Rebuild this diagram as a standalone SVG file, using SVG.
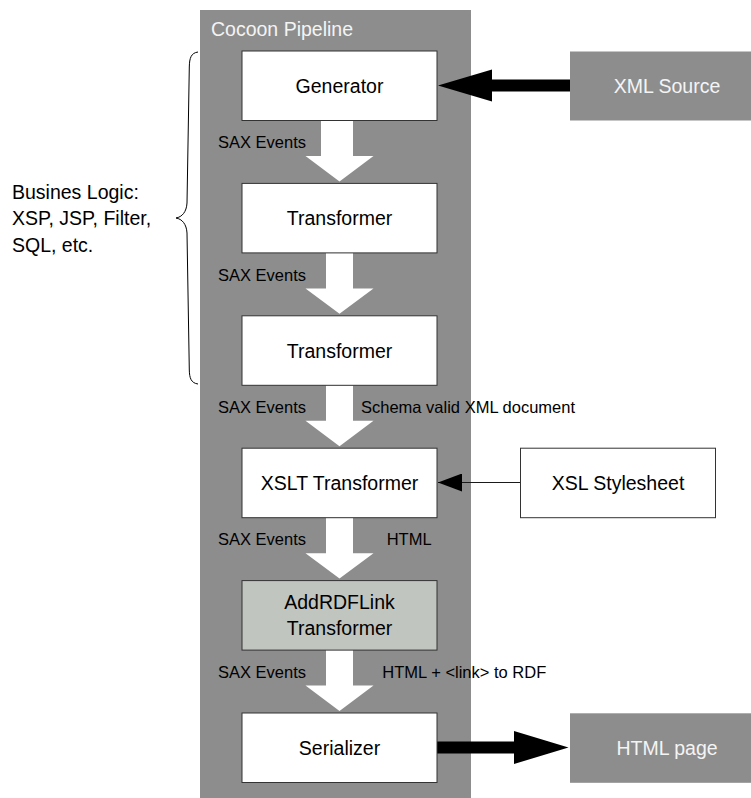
<svg xmlns="http://www.w3.org/2000/svg" width="751" height="798" viewBox="0 0 751 798">
  <style>
    text { font-family: "Liberation Sans", Arial, sans-serif; }
    .node rect { stroke: #333333; stroke-width: 1; }
    .plain { fill: #ffffff; }
    .tinted { fill: #c1c5bf; }
    .ext { fill: #8d8d8d; stroke: none; }
    .big { font-size: 19.5px; fill: #000000; text-anchor: middle; }
    .inv { font-size: 19.5px; fill: #f4f4f4; text-anchor: middle; }
    .lbl { font-size: 16.5px; fill: #000000; }
    .flow { fill: #ffffff; stroke: none; }
    .feed { fill: #000000; stroke: none; }
  </style>
  <defs>
    <marker id="tri" viewBox="0 0 24 18" refX="24" refY="9" markerWidth="24" markerHeight="18" markerUnits="userSpaceOnUse" orient="auto">
      <path d="M0,0 L24,9 L0,18 Z" fill="#000000"/>
    </marker>
  </defs>

  <!-- pipeline container -->
  <g id="pipeline">
    <rect x="200" y="10" width="271" height="788" fill="#8d8d8d"/>
    <text x="211" y="36" font-size="19.5px" fill="#f4f4f4">Cocoon Pipeline</text>
  </g>

  <!-- business logic brace and note -->
  <g id="business-logic">
    <path d="M198,52 C191,53 189.5,58 189.3,67 L187,203 C186.5,212 182,217 176,218 C182,219 186.5,224 187,233 L189.3,370 C189.5,378 191,383 198,384" fill="none" stroke="#000000" stroke-width="1"/>
    <text x="12" y="198.5" font-size="19.5px" fill="#000000">Busines Logic:</text>
    <text x="12" y="225" font-size="19.5px" fill="#000000">XSP, JSP, Filter,</text>
    <text x="12" y="251.5" font-size="19.5px" fill="#000000">SQL, etc.</text>
  </g>

  <!-- connectors -->
  <g id="connectors">
    <!-- SAX event flow arrows between stages -->
    <polygon class="flow" points="321,120.5 353,120.5 353,156 373.5,156 339.5,181.4 305.5,156 321,156"/>
    <polygon class="flow" points="326,252.9 353,252.9 353,288.4 373.5,288.4 339.5,313.8 305.5,288.4 326,288.4"/>
    <polygon class="flow" points="326,385.3 353,385.3 353,420.8 373.5,420.8 339.5,446.2 305.5,420.8 326,420.8"/>
    <polygon class="flow" points="326,517.7 353,517.7 353,553.2 373.5,553.2 339.5,578.6 305.5,553.2 326,553.2"/>
    <polygon class="flow" points="326,650.1 353,650.1 353,685.6 373.5,685.6 339.5,711 305.5,685.6 326,685.6"/>
    <!-- XML source into generator -->
    <polygon class="feed" points="570,79.5 492,79.5 492,69.5 438,85.5 492,101.5 492,91.5 570,91.5"/>
    <!-- serializer out to HTML page -->
    <polygon class="feed" points="437,741.5 514,741.5 514,731 568.5,747.5 514,764 514,753.5 437,753.5"/>
    <!-- stylesheet into XSLT transformer -->
    <line x1="520.5" y1="482.5" x2="438" y2="482.5" stroke="#1a1a1a" stroke-width="1" marker-end="url(#tri)"/>
    <!-- flow labels -->
    <text class="lbl" x="218" y="148">SAX Events</text>
    <text class="lbl" x="218" y="280.5">SAX Events</text>
    <text class="lbl" x="218" y="413">SAX Events</text>
    <text class="lbl" x="361" y="413">Schema valid XML document</text>
    <text class="lbl" x="218" y="545.3">SAX Events</text>
    <text class="lbl" x="386.7" y="545.3">HTML</text>
    <text class="lbl" x="218" y="677.7">SAX Events</text>
    <text class="lbl" x="382.3" y="677.7">HTML + &lt;link&gt; to RDF</text>
  </g>

  <!-- pipeline stages -->
  <g id="generator" class="node">
    <rect class="plain" x="242" y="51" width="195" height="69.5"/>
    <text class="big" x="339.5" y="93">Generator</text>
  </g>
  <g id="transformer-1" class="node">
    <rect class="plain" x="242" y="183.4" width="195" height="69.5"/>
    <text class="big" x="339.5" y="225.4">Transformer</text>
  </g>
  <g id="transformer-2" class="node">
    <rect class="plain" x="242" y="315.8" width="195" height="69.5"/>
    <text class="big" x="339.5" y="357.8">Transformer</text>
  </g>
  <g id="xslt-transformer" class="node">
    <rect class="plain" x="242" y="448.2" width="195" height="69.5"/>
    <text class="big" x="339.5" y="490">XSLT Transformer</text>
  </g>
  <g id="addrdflink-transformer" class="node">
    <rect class="tinted" x="242" y="580.6" width="195" height="69.5"/>
    <text class="big" x="339.5" y="609">AddRDFLink</text>
    <text class="big" x="339.5" y="635">Transformer</text>
  </g>
  <g id="serializer" class="node">
    <rect class="plain" x="242" y="713" width="195" height="69.5"/>
    <text class="big" x="339.5" y="755">Serializer</text>
  </g>

  <!-- external inputs and output -->
  <g id="xml-source">
    <rect class="ext" x="570" y="51.5" width="195" height="69"/>
    <text class="inv" x="667" y="93.3">XML Source</text>
  </g>
  <g id="xsl-stylesheet" class="node">
    <rect class="plain" x="520.5" y="448.2" width="195" height="69.5"/>
    <text class="big" x="618" y="490">XSL Stylesheet</text>
  </g>
  <g id="html-page">
    <rect class="ext" x="570" y="713.3" width="195" height="69.5"/>
    <text class="inv" x="667" y="755">HTML page</text>
  </g>
</svg>
